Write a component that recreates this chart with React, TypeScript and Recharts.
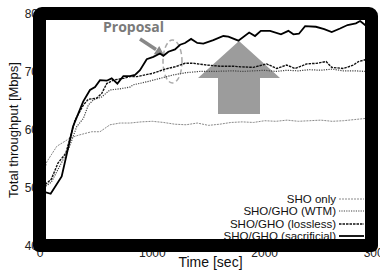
import React from 'react';
import { LineChart, Line, XAxis, YAxis, Legend } from 'recharts';

// ---- data (time in sec, throughput in Mbps) ----
const shoOnlyTime = [0, 60, 150, 267, 341, 460, 534, 623, 712, 801, 900, 1000, 1100, 1200, 1300, 1400, 1500, 1600, 1700, 1800, 1900, 2000, 2100, 2200, 2300, 2400, 2500, 2600, 2700, 2800, 2900, 3000];
const shoOnlyVal = [49.8, 54.5, 57.2, 58.6, 59.1, 59.7, 59.7, 60.9, 61.2, 61.2, 61.4, 61.5, 61.3, 61.0, 60.9, 61.2, 60.8, 61.0, 61.3, 61.4, 61.3, 61.6, 61.5, 61.7, 61.5, 61.6, 61.7, 61.5, 61.6, 61.8, 62.0, 62.1];

const wtmTime = [0, 100, 190, 260, 327, 386, 430, 475, 549, 623, 712, 801, 831, 950, 1068, 1187, 1306, 1425, 1543, 1721, 1800, 1900, 2000, 2100, 2200, 2300, 2400, 2500, 2600, 2700, 2800, 2900, 3000];
const wtmVal = [49.6, 51.0, 54.3, 57.0, 60.6, 62.0, 64.3, 65.2, 65.7, 66.9, 67.1, 67.4, 67.8, 68.3, 68.9, 69.5, 69.9, 70.1, 70.1, 70.2, 70.1, 70.2, 70.3, 70.1, 70.3, 70.2, 70.4, 70.3, 70.5, 70.2, 70.2, 70.1, 70.1];

const losslessTime = [0, 100, 160, 230, 312, 386, 430, 505, 549, 594, 653, 742, 801, 861, 1009, 1113, 1202, 1291, 1365, 1484, 1603, 1721, 1781, 1899, 2018, 2107, 2196, 2271, 2375, 2464, 2547, 2597, 2701, 2790, 2835, 2894, 3000];
const losslessVal = [49.8, 51.5, 54.3, 56.0, 61.7, 64.3, 65.3, 65.5, 66.3, 68.0, 68.6, 68.9, 69.2, 69.2, 69.8, 70.5, 70.9, 71.5, 71.5, 71.2, 71.0, 71.0, 70.9, 70.8, 71.4, 70.6, 71.2, 70.6, 71.4, 71.5, 71.8, 70.8, 70.6, 71.2, 71.8, 72.1, 72.2];

const sacTime = [0, 45, 95, 193, 294, 384, 445, 490, 534, 594, 638, 689, 742, 801, 846, 890, 950, 1009, 1068, 1098, 1143, 1202, 1247, 1291, 1345, 1400, 1454, 1543, 1632, 1677, 1766, 1862, 1914, 1966, 2048, 2145, 2211, 2256, 2305, 2360, 2456, 2530, 2597, 2671, 2738, 2812, 2850, 2894, 3000];
const sacVal = [49.5, 49.3, 49.0, 52.0, 60.6, 64.9, 66.9, 67.4, 68.6, 68.5, 68.9, 68.0, 69.3, 69.3, 69.5, 70.3, 72.2, 72.6, 73.2, 72.8, 73.5, 73.9, 74.7, 75.0, 75.7, 75.0, 74.9, 75.5, 76.2, 76.1, 75.4, 76.8, 76.2, 77.1, 77.1, 76.5, 77.1, 76.5, 76.6, 77.9, 77.8, 77.4, 76.9, 77.5, 78.1, 78.4, 78.8, 78.1, 78.3];

const seriesNames = ['SHO only', 'SHO/GHO (WTM)', 'SHO/GHO (lossless)', 'SHO/GHO (sacrificial)'];
const xTicks = [0, 1000, 2000, 3000];
const yTicks = [40, 50, 60, 70, 80];

const zip = (t: number[], v: number[]) => t.map((x, i) => ({ t: x, v: v[i] }));
const shoOnlyData = zip(shoOnlyTime, shoOnlyVal);
const wtmData = zip(wtmTime, wtmVal);
const losslessData = zip(losslessTime, losslessVal);
const sacData = zip(sacTime, sacVal);

const styles: Record<string, { stroke: string; width: number; dash?: string }> = {
  'SHO only': { stroke: '#8a8a8a', width: 1, dash: '2 1' },
  'SHO/GHO (WTM)': { stroke: '#444', width: 1.2, dash: '1.2 1.2' },
  'SHO/GHO (lossless)': { stroke: '#111', width: 1.4, dash: '2.5 1' },
  'SHO/GHO (sacrificial)': { stroke: '#000', width: 1.8 },
};

const FONT = '"Liberation Sans", Arial, sans-serif';

const renderLegend = (props: any) => {
  const payload = props.payload || [];
  return (
    <div style={{ fontFamily: FONT, fontSize: 11.5, color: '#111' }}>
      {payload.map((e: any) => {
        const s = styles[e.value];
        return (
          <div key={e.value} style={{ display: 'flex', justifyContent: 'flex-end', alignItems: 'center', height: 12.3, lineHeight: '12.3px' }}>
            <span style={{ whiteSpace: 'nowrap' }}>{e.value}</span>
            <svg width={27} height={6} style={{ marginLeft: 2 }}>
              <line x1={1} y1={3} x2={26} y2={3} stroke={s.stroke} strokeWidth={s.width} strokeDasharray={s.dash} />
            </svg>
          </div>
        );
      })}
    </div>
  );
};

export default function App() {
  const datasets = [shoOnlyData, wtmData, losslessData, sacData];
  return (
    <div style={{ position: 'absolute', left: 0, top: 0, width: 380, height: 271, background: '#fff', overflow: 'hidden' }}>
      {/* annotations underneath the data lines */}
      <svg width={380} height={271} style={{ position: 'absolute', left: 0, top: 0 }}>
        <polygon points="239,41 280,78 260,78 260,114 218,114 218,78 198,78" fill="#9c9c9c" />
        <text x={103} y={32} fontFamily='"Open Sans", sans-serif' fontWeight={700} fontSize={14} fill="#7a7a7a">Proposal</text>
        <line x1={140} y1={39} x2={156} y2={49.5} stroke="#888" strokeWidth={3.5} />
        <polygon points="164,55 153.8,54.3 159.2,45.9" fill="#888" />
        <ellipse cx={172.5} cy={61.5} rx={9.5} ry={21.5} fill="none" stroke="#aaa" strokeWidth={1.5} strokeDasharray="5 3" />
      </svg>
      <div style={{ position: 'absolute', left: 0, top: 0 }}>
        <LineChart width={380} height={271} margin={{ top: 14, right: 3, bottom: 0, left: 0 }}>
          <XAxis
            type="number"
            dataKey="t"
            domain={[0, 3000]}
            ticks={xTicks}
            interval={0}
            allowDataOverflow
            axisLine={false}
            tickLine={false}
            tickSize={0}
            tickMargin={2}
            height={25}
            tick={{ fontFamily: FONT, fontSize: 12, fill: '#222' }}
            label={{
              content: (p: any) => {
                const vb = p.viewBox;
                return (
                  <text x={vb.x + vb.width / 2 + 2} y={vb.y + 16} textAnchor="middle" dominantBaseline="central" fontFamily={FONT} fontSize={14} fill="#111">
                    Time [sec]
                  </text>
                );
              },
            }}
          />
          <YAxis
            type="number"
            domain={[40, 80]}
            ticks={yTicks}
            interval={0}
            allowDataOverflow
            axisLine={false}
            tickLine={false}
            tickSize={0}
            tickMargin={2}
            width={40}
            tick={{ fontFamily: FONT, fontSize: 12, fill: '#222' }}
            label={{
              content: (p: any) => {
                const vb = p.viewBox;
                const cx = vb.x + 13;
                const cy = vb.y + vb.height / 2;
                return (
                  <text x={cx} y={cy} textAnchor="middle" dominantBaseline="central" transform={`rotate(-90 ${cx} ${cy})`} fontFamily={FONT} fontSize={13} fill="#111">
                    Total throughput [Mbps]
                  </text>
                );
              },
            }}
          />
          {seriesNames.map((name, i) => {
            const s = styles[name];
            return (
              <Line
                key={name}
                data={datasets[i]}
                dataKey="v"
                name={name}
                type="linear"
                stroke={s.stroke}
                strokeWidth={s.width}
                strokeDasharray={s.dash}
                dot={false}
                activeDot={false}
                isAnimationActive={false}
              />
            );
          })}
          <Legend
            layout="vertical"
            align="center"
            verticalAlign="middle"
            content={renderLegend}
            wrapperStyle={{ position: 'absolute', left: 200, top: 193, width: 165 }}
          />
        </LineChart>
      </div>
      {/* thick frame drawn over the plot */}
      <div
        style={{
          position: 'absolute',
          left: 33,
          top: 7,
          width: 345,
          height: 245,
          boxSizing: 'border-box',
          border: '13px solid #000',
          borderRadius: '9px 9px 6px 6px',
          pointerEvents: 'none',
        }}
      />
    </div>
  );
}
